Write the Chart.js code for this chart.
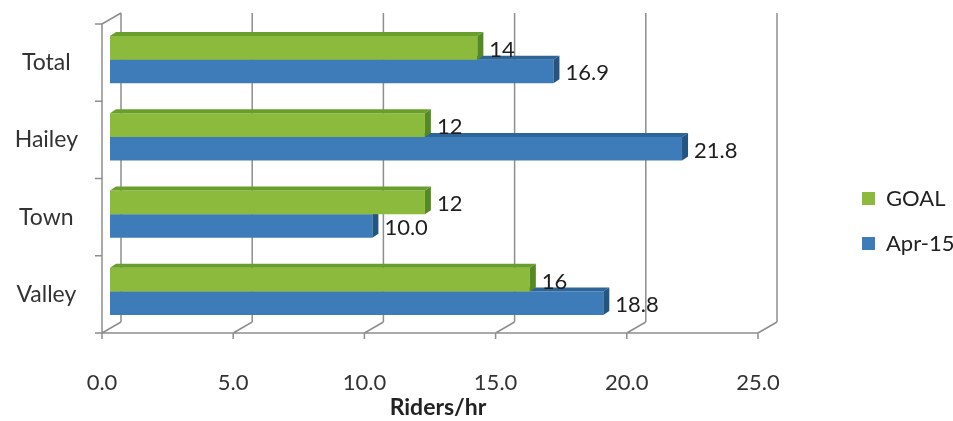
<!DOCTYPE html>
<html>
<head>
<meta charset="utf-8">
<script src="https://cdn.jsdelivr.net/npm/chart.js@4/dist/chart.umd.min.js"></script>
<style>
  html, body { margin: 0; padding: 0; background: #ffffff; }
  #wrap { width: 953px; height: 421px; position: relative; }
</style>
</head>
<body>
<div id="wrap"><canvas id="c"></canvas></div>
<script>
// Riders per hour by route
const categories = ['Total', 'Hailey', 'Town', 'Valley'];
const goalValues = [14, 12, 12, 16];
const aprValues = [16.9, 21.8, 10.0, 18.8];
const seriesNames = ['GOAL', 'Apr-15'];
const labelDecimals = [0, 1];
const xTicks = [0, 5, 10, 15, 20, 25];

// colours: front face, top face, side face
const seriesColors = [
  { front: '#8bba3d', top: '#6a9e2c', side: '#558a22' },
  { front: '#3d7cb9', top: '#2d6598', side: '#245580' }
];

// offsets of the front and back planes, and bar depth, relative to the bar plane
const FRONT = { dx: -8, dy: 3 };
const BACK = { dx: 11, dy: -8 };
const DEPTH = { dx: 6, dy: -4 };

const FONT = 'Lato, "Open Sans", sans-serif';

function poly(ctx, pts) {
  ctx.beginPath();
  ctx.moveTo(pts[0][0], pts[0][1]);
  for (let i = 1; i < pts.length; i++) ctx.lineTo(pts[i][0], pts[i][1]);
  ctx.closePath();
  ctx.fill();
}

// walls, floor and axis lines of the 3D frame
const frame3d = {
  id: 'frame3d',
  beforeDatasetsDraw(chart) {
    const { ctx, chartArea: a, scales: { x, y } } = chart;
    ctx.save();
    ctx.strokeStyle = '#8e8e8e';
    ctx.lineWidth = 1.5;
    ctx.beginPath();
    xTicks.forEach(v => {
      const px = x.getPixelForValue(v);
      ctx.moveTo(px + BACK.dx, a.top + BACK.dy);
      ctx.lineTo(px + BACK.dx, a.bottom + BACK.dy);
      ctx.moveTo(px + FRONT.dx, a.bottom + FRONT.dy);
      ctx.lineTo(px + BACK.dx, a.bottom + BACK.dy);
      ctx.moveTo(px + FRONT.dx, a.bottom + FRONT.dy);
      ctx.lineTo(px + FRONT.dx, a.bottom + FRONT.dy + 6);
    });
    const xs = x.getPixelForValue(xTicks[0]);
    const xe = x.getPixelForValue(xTicks[xTicks.length - 1]);
    ctx.moveTo(xs + FRONT.dx, a.bottom + FRONT.dy);
    ctx.lineTo(xe + FRONT.dx, a.bottom + FRONT.dy);
    ctx.moveTo(xs + FRONT.dx, a.top + FRONT.dy);
    ctx.lineTo(xs + FRONT.dx, a.bottom + FRONT.dy);
    ctx.moveTo(xs + FRONT.dx, a.top + FRONT.dy);
    ctx.lineTo(xs + BACK.dx, a.top + BACK.dy);
    for (let i = 0; i <= categories.length; i++) {
      const yb = y.getPixelForValue(i - 0.5) + FRONT.dy;
      ctx.moveTo(xs + FRONT.dx - 7, yb);
      ctx.lineTo(xs + FRONT.dx, yb);
    }
    ctx.stroke();
    ctx.restore();
  },
  afterDatasetDraw(chart, args) {
    const { ctx } = chart;
    const col = seriesColors[args.index];
    ctx.save();
    args.meta.data.forEach(el => {
      const { x, y, base, height } = el.getProps(['x', 'y', 'base', 'height'], true);
      const t = y - height / 2, b = y + height / 2;
      ctx.fillStyle = col.top;
      poly(ctx, [[base, t], [base + DEPTH.dx, t + DEPTH.dy], [x + DEPTH.dx, t + DEPTH.dy], [x, t]]);
      ctx.fillStyle = col.side;
      poly(ctx, [[x, t], [x + DEPTH.dx, t + DEPTH.dy], [x + DEPTH.dx, b + DEPTH.dy], [x, b]]);
    });
    ctx.restore();
  },
  afterDatasetsDraw(chart) {
    const { ctx } = chart;
    ctx.save();
    ctx.font = '22px ' + FONT;
    ctx.fillStyle = '#1e1e1e';
    ctx.textAlign = 'left';
    ctx.textBaseline = 'middle';
    chart.data.datasets.forEach((ds, i) => {
      chart.getDatasetMeta(i).data.forEach((el, j) => {
        const { x, y } = el.getProps(['x', 'y'], true);
        ctx.fillText(ds.data[j].toFixed(labelDecimals[i]), x + DEPTH.dx + 6, y + 2);
      });
    });
    ctx.restore();
  }
};

// keep the legend column at the far right, away from the plot
const legendPlacement = {
  id: 'legendPlacement',
  beforeLayout(chart) {
    const lg = chart.legend;
    if (lg && !lg._widened) {
      const fit = lg.fit;
      lg.fit = function () { fit.call(this); this.width = Math.max(this.width, 187); };
      lg._widened = true;
    }
  },
  afterLayout(chart) {
    const lg = chart.legend;
    if (lg) {
      lg.left = 839;
      lg.width = lg.right - lg.left;
    }
  }
};

new Chart(document.getElementById('c'), {
  type: 'bar',
  data: {
    labels: categories,
    datasets: [
      { label: seriesNames[0], data: goalValues, backgroundColor: seriesColors[0].front },
      { label: seriesNames[1], data: aprValues, backgroundColor: seriesColors[1].front }
    ]
  },
  options: {
    indexAxis: 'y',
    responsive: true,
    maintainAspectRatio: false,
    animation: false,
    layout: { padding: { top: 21, left: 0, right: 0, bottom: 0 } },
    datasets: { bar: { categoryPercentage: 0.61, barPercentage: 1.0, borderWidth: 0 } },
    scales: {
      x: {
        min: 0, max: 25,
        afterBuildTicks: s => { s.ticks = xTicks.map(v => ({ value: v })); },
        afterFit: s => { s.height = 91; },
        grid: { display: false, drawTicks: true, tickLength: 40 },
        border: { display: false },
        ticks: {
          padding: 0,
          labelOffset: FRONT.dx,
          color: '#333333',
          font: { family: FONT, size: 22 },
          callback: v => Number(v).toFixed(1)
        },
        title: {
          display: true,
          text: 'Riders/hr',
          color: '#222222',
          font: { family: FONT, size: 23, weight: 'bold' },
          padding: { top: 0, bottom: 0 }
        }
      },
      y: {
        afterFit: s => { s.width = 110; },
        grid: { display: false, drawTicks: true, tickLength: 32 },
        border: { display: false },
        ticks: {
          crossAlign: 'center',
          padding: 0,
          labelOffset: FRONT.dy,
          color: '#333333',
          font: { family: FONT, size: 23 }
        }
      }
    },
    plugins: {
      legend: {
        position: 'right',
        labels: {
          boxWidth: 13,
          boxHeight: 13,
          padding: 23,
          color: '#222222',
          font: { family: FONT, size: 22 }
        }
      },
      tooltip: { enabled: false }
    }
  },
  plugins: [frame3d, legendPlacement]
});
</script>
</body>
</html>
